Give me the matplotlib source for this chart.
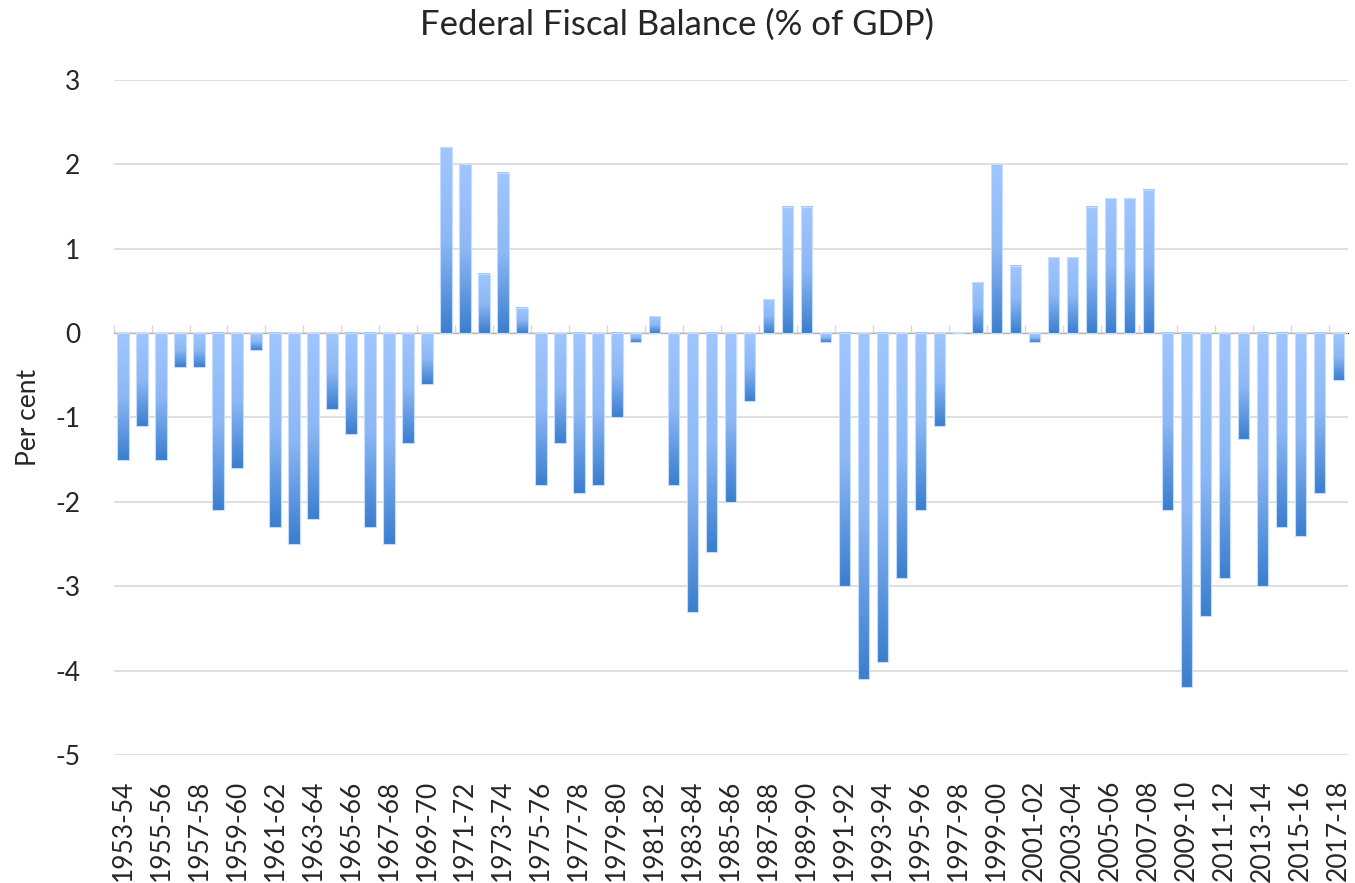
import numpy as np
import matplotlib.pyplot as plt
from matplotlib.colors import LinearSegmentedColormap

# Federal fiscal balance, % of GDP, financial years 1953-54 .. 2017-18
years = [f"{y}-{(y + 1) % 100:02d}" for y in range(1953, 2018)]
balance = [
    -1.5, -1.1, -1.5, -0.4, -0.4, -2.1, -1.6, -0.2, -2.3, -2.5,
    -2.2, -0.9, -1.2, -2.3, -2.5, -1.3, -0.6, 2.2, 2.0, 0.7,
    1.9, 0.3, -1.8, -1.3, -1.9, -1.8, -1.0, -0.1, 0.2, -1.8,
    -3.3, -2.6, -2.0, -0.8, 0.4, 1.5, 1.5, -0.1, -3.0, -4.1,
    -3.9, -2.9, -2.1, -1.1, 0.0, 0.6, 2.0, 0.8, -0.1, 0.9,
    0.9, 1.5, 1.6, 1.6, 1.7, -2.1, -4.2, -3.35, -2.9, -1.25,
    -3.0, -2.3, -2.4, -1.9, -0.55,
]
yticks = [3, 2, 1, 0, -1, -2, -3, -4, -5]

plt.rcParams['font.family'] = ['Lato', 'DejaVu Sans']
text_col = "#262626"
grid_col = "#D9D9D9"

fig = plt.figure(figsize=(13.55, 8.83), dpi=100, facecolor="w")
ax = fig.add_axes([0.0838, 0.145, 0.9110, 0.7644])

x = np.arange(len(years))
bars = ax.bar(x, balance, width=0.6, color="none", edgecolor="#C5DCFF",
              linewidth=0.8, zorder=3)

# vertical gradient inside each bar: light at the top, darker at the bottom
cmap = LinearSegmentedColormap.from_list("bluegrad", ["#A0C6FF", "#8DB8F5", "#3A7ECF"])
grad = np.linspace(0, 1, 256).reshape(-1, 1)
for b in bars:
    h = b.get_height()
    if h == 0:
        continue
    x0 = b.get_x()
    y0, y1 = sorted([b.get_y(), b.get_y() + h])
    ax.imshow(grad, cmap=cmap, aspect="auto", origin="upper",
              extent=[x0, x0 + b.get_width(), y0, y1], zorder=2)

ax.set_xlim(-0.5, len(years) - 0.5)
ax.set_ylim(-5, 3)
ax.set_yticks(yticks)
ax.set_yticklabels([str(v) for v in yticks])
ax.yaxis.grid(True, color=grid_col, linewidth=1.2, zorder=0)
ax.set_axisbelow(True)
for s in ax.spines.values():
    s.set_visible(False)
ax.tick_params(axis="y", length=0, pad=24, labelsize=19, labelcolor=text_col)

ax.set_xticks(x[::2])
ax.set_xticklabels(years[::2], rotation=90)
ax.tick_params(axis="x", length=0, pad=18, labelsize=19, labelcolor=text_col)

# axis line with tick marks at the zero crossing
ylo, yhi = ax.get_ylim()
sec = ax.secondary_xaxis((0 - ylo) / (yhi - ylo))
sec.set_xticks(np.arange(-0.5, len(years), 2))
sec.tick_params(axis="x", direction="out", length=6, color=grid_col,
                width=1.0, labelbottom=False, labeltop=False)
sec.spines["bottom"].set_color(grid_col)
sec.spines["bottom"].set_linewidth(1.2)
sec.set_xticklabels([])

ax.set_ylabel("Per cent", fontsize=19, color=text_col, labelpad=10)
fig.text(0.5, 0.972, "Federal Fiscal Balance (% of GDP)", ha="center", va="center",
         fontsize=25, color=text_col)

fig.savefig("out.png", dpi=100, facecolor="w")
